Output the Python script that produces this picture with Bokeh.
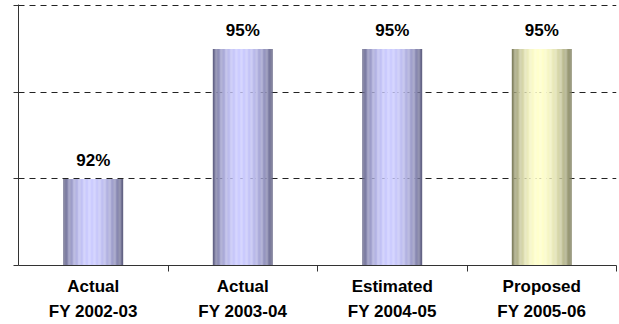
from bokeh.plotting import figure
from bokeh.models import FixedTicker, ColumnDataSource, LabelSet, Range1d
from bokeh.core.properties import value
from bokeh.embed import file_html
from bokeh.resources import INLINE

# Chart data
categories = ["Actual\nFY 2002-03", "Actual\nFY 2003-04", "Estimated\nFY 2004-05", "Proposed\nFY 2005-06"]
values = [92, 95, 95, 95]
value_labels = ["92%", "95%", "95%", "95%"]
y_ticks = [90, 92, 94, 96]

# Cylinder-style shading: (edge colour, highlight colour) per bar
purple = ((92, 92, 124), (204, 204, 255))
gold = ((118, 118, 88), (255, 255, 204))
bar_palettes = [purple, purple, purple, gold]

FONT = "Liberation Sans"
BAR_WIDTH = 0.4
STRIPS = 48

p = figure(width=619, height=324, output_backend="svg", toolbar_location=None,
           x_range=Range1d(0, len(categories)), y_range=Range1d(y_ticks[0], y_ticks[-1] + 0.03),
           min_border_left=18, min_border_right=3, min_border_top=4, min_border_bottom=59)
p.outline_line_color = None
p.background_fill_color = "white"
p.border_fill_color = "white"


def shade(t):
    # brightness profile across the bar, peaking a little left of centre
    peak = 0.45
    d = (t - peak) / (peak if t < peak else 1 - peak)
    return max(0.0, 1 - d * d) ** 0.8


xs, tops, widths, colors = [], [], [], []
for i, (v, (dark, light)) in enumerate(zip(values, bar_palettes)):
    center = i + 0.5
    left = center - BAR_WIDTH / 2
    step = BAR_WIDTH / STRIPS
    for k in range(STRIPS):
        t = (k + 0.5) / STRIPS
        f = shade(t)
        c = tuple(int(round(a + (b - a) * f)) for a, b in zip(dark, light))
        xs.append(left + (k + 0.5) * step)
        tops.append(v)
        widths.append(step * 1.08)
        colors.append("#%02x%02x%02x" % c)

p.vbar(x=xs, top=tops, bottom=y_ticks[0], width=widths, fill_color=colors, line_color=None)

# value labels above each bar
lbl_src = ColumnDataSource(dict(x=[i + 0.5 for i in range(len(values))], y=values, t=value_labels))
p.add_layout(LabelSet(x="x", y="y", text="t", source=lbl_src, y_offset=13,
                      text_align="center", text_baseline="alphabetic",
                      text_font=value(FONT), text_font_style="bold", text_font_size="17px",
                      text_color="black"))

# y axis: ticks only, no labels
p.yaxis.ticker = FixedTicker(ticks=y_ticks)
p.yaxis.major_label_overrides = {t: "" for t in y_ticks}
p.yaxis.major_label_standoff = 0
p.yaxis.major_tick_in = 0
p.yaxis.major_tick_out = 5
p.yaxis.minor_tick_line_color = None
p.yaxis.axis_line_color = "#333333"
p.yaxis.major_tick_line_color = "#333333"

# x axis: category labels at centres, boundary ticks between categories
centers = [i + 0.5 for i in range(len(categories))]
p.xaxis.ticker = FixedTicker(ticks=centers, minor_ticks=list(range(1, len(categories) + 1)))
p.xaxis.major_label_overrides = {c: lab for c, lab in zip(centers, categories)}
p.xaxis.major_tick_line_color = None
p.xaxis.major_tick_in = 0
p.xaxis.major_tick_out = 0
p.xaxis.minor_tick_in = 0
p.xaxis.minor_tick_out = 6
p.xaxis.minor_tick_line_color = "#333333"
p.xaxis.axis_line_color = "#333333"
p.xaxis.major_label_text_font = FONT
p.xaxis.major_label_text_font_style = "bold"
p.xaxis.major_label_text_font_size = "17px"
p.xaxis.major_label_text_line_height = 1.35
p.xaxis.major_label_text_color = "black"
p.xaxis.major_label_standoff = 5

# dashed horizontal gridlines
p.xgrid.grid_line_color = None
p.ygrid.ticker = FixedTicker(ticks=y_ticks[1:])
p.ygrid.grid_line_color = "#222222"
p.ygrid.grid_line_dash = "6 5"
p.ygrid.grid_line_width = 1

open("out.html", "w").write(file_html(p, INLINE))
